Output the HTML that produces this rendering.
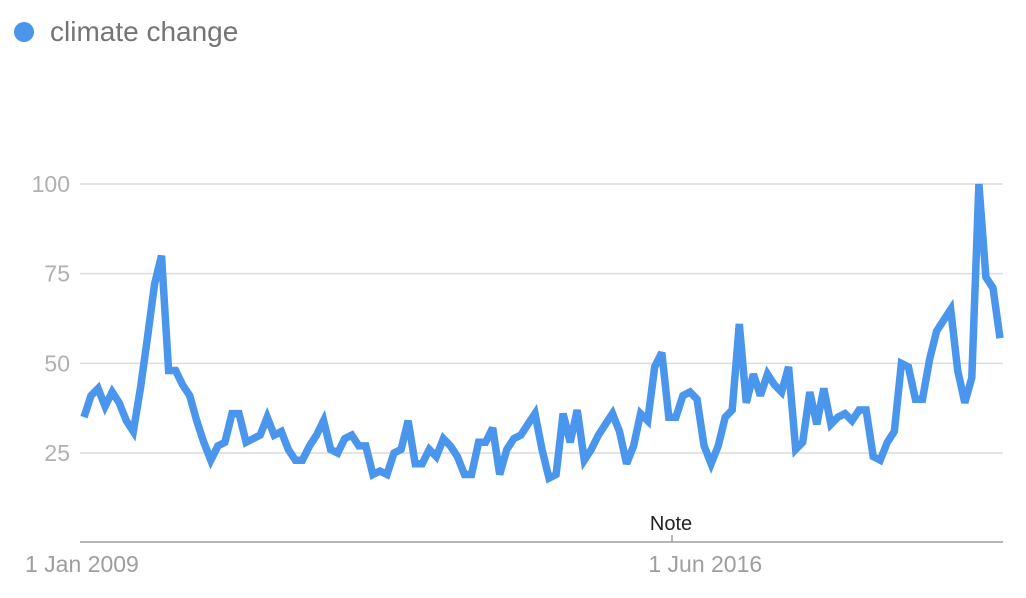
<!DOCTYPE html>
<html><head><meta charset="utf-8"><style>
html,body{margin:0;padding:0;background:#fff;width:1026px;height:598px;overflow:hidden;font-family:"Liberation Sans",sans-serif}
</style></head><body>
<svg id="chart" width="1026" height="598" xmlns="http://www.w3.org/2000/svg">
<g>
<circle cx="24" cy="32" r="10" fill="#4a96ec"/>
<text x="50" y="41" font-size="28" fill="#757575" font-family="Liberation Sans, sans-serif">climate change</text>
</g>
<g id="grid"></g>
<g id="axes"></g>
<path id="series" fill="none" stroke="#4a96ec" stroke-width="7.5" stroke-linejoin="miter" stroke-miterlimit="3"/>
</svg>
<script>
const values = [35,41,43,38,42,39,34,31,43,57,72,80,48,48,44,41,34,28,23,27,28,36,36,28,29,30,35,30,31,26,23,23,27,30,34,26,25,29,30,27,27,19,20,19,25,
26,34,22,22,26,24,29,27,24,19,19,28,28,32,19,26,29,30,33,36,26,18,19,36,28,37,23,26,30,33,36,31,22,27,36,34,49,53,35,35,41,42,
40,27,22,27,35,37,61,39,47,41,47,44,42,49,26,28,42,33,43,33,35,36,34,37,37,24,23,28,31,50,49,40,40,51,59,62,65,48,39,46,100,74,71,57];
const yTicks = [25,50,75,100];
const xLabels = ["1 Jan 2009","1 Jun 2016"];
const xLabelIdx = [0,83.5];

const X0=84,X1=1000,Y0=542.7,PX=3.587;
function xs(i){return X0+(X1-X0)*i/(values.length-1);}
function ys(v){return Y0-v*PX;}
const NS="http://www.w3.org/2000/svg";
const grid=document.getElementById('grid'), axes=document.getElementById('axes');
yTicks.forEach(t=>{
  const l=document.createElementNS(NS,'line');
  
  
  l.setAttribute('x1',80);l.setAttribute('x2',1003);
  l.setAttribute('y1',ys(t));l.setAttribute('y2',ys(t));
  l.setAttribute('stroke','#dcdcdc');l.setAttribute('stroke-width','1.5');
  grid.appendChild(l);
  const tx=document.createElementNS(NS,'text');
  
  
  tx.setAttribute('x',70);tx.setAttribute('y',ys(t)+8);
  tx.setAttribute('text-anchor','end');tx.setAttribute('font-size','23');tx.setAttribute('fill','#b0b0b0');
  tx.textContent=t;grid.appendChild(tx);
});
const ax=document.createElementNS(NS,'line');


ax.setAttribute('x1',80);ax.setAttribute('x2',1003);ax.setAttribute('y1',542);ax.setAttribute('y2',542);
ax.setAttribute('stroke','#9e9e9e');ax.setAttribute('stroke-width','1.5');
axes.appendChild(ax);
xLabels.forEach((s,k)=>{
  const t=document.createElementNS(NS,'text');
  
  
  const x=xs(xLabelIdx[k]);
  t.setAttribute('x',k===0?25:x-24);t.setAttribute('y',572);
  t.setAttribute('text-anchor','start');
  t.setAttribute('font-size','23');t.setAttribute('fill','#9e9e9e');
  t.textContent=s;axes.appendChild(t);
});
const tick=document.createElementNS(NS,'line');


tick.setAttribute('x1',672);tick.setAttribute('x2',672);tick.setAttribute('y1',535);tick.setAttribute('y2',542);
tick.setAttribute('stroke','#9e9e9e');tick.setAttribute('stroke-width','1.5');
axes.appendChild(tick);
const note=document.createElementNS(NS,'text');


note.setAttribute('x',671);note.setAttribute('y',530);note.setAttribute('text-anchor','middle');
note.setAttribute('font-size','20');note.setAttribute('fill','#222');
note.textContent='Note';axes.appendChild(note);
document.getElementById('series').setAttribute('d',values.map((v,i)=>(i?'L':'M')+xs(i).toFixed(1)+' '+ys(v).toFixed(1)).join(' '));
</script>
</body></html>
